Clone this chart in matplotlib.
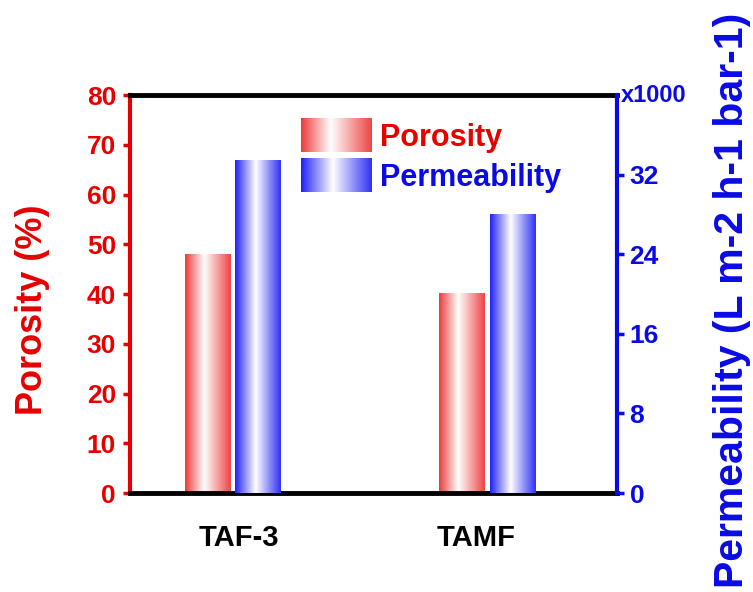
import numpy as np
import matplotlib
matplotlib.use("Agg")
import matplotlib.pyplot as plt
from matplotlib.colors import LinearSegmentedColormap
from matplotlib.legend_handler import HandlerBase
from matplotlib.image import BboxImage
from matplotlib.transforms import Bbox, TransformedBbox
from matplotlib.patches import Rectangle

plt.rcParams['font.family'] = ['Liberation Sans', 'DejaVu Sans']
plt.rcParams['font.weight'] = 'bold'

# data
categories = ['TAF-3', 'TAMF']
porosity = [48.0, 40.0]              # %
permeability = [33400, 28000]        # L m-2 h-1 bar-1
perm_ticks = [0, 8000, 16000, 24000, 32000]

RED = '#e60000'
BLUE = '#0a0ae6'
red_cmap = LinearSegmentedColormap.from_list('rg', [(0, '#ec3a3a'), (0.42, 'white'), (1, '#ee4444')])
blue_cmap = LinearSegmentedColormap.from_list('bg', [(0, '#2020f5'), (0.45, 'white'), (1, '#3030f5')])
grad = np.linspace(0, 1, 256).reshape(1, -1)

fig = plt.figure(figsize=(7.53, 5.92), dpi=100)
ax = fig.add_axes([0.1726, 0.1672, 0.6468, 0.6723])
ax2 = ax.twinx()

x = np.arange(len(categories))
w = 0.179
off = 0.099


def gradient_bars(axis, xs, heights, cmap):
    bars = axis.bar(xs, heights, w, color='none', edgecolor='none')
    for b in bars:
        x0, y0 = b.get_x(), b.get_y()
        axis.imshow(grad, cmap=cmap, aspect='auto', interpolation='bicubic',
                    extent=[x0, x0 + b.get_width(), y0, y0 + b.get_height()], zorder=2)
    return bars


gradient_bars(ax, x - off, porosity, red_cmap)
gradient_bars(ax2, x + off, permeability, blue_cmap)

ax.set_xlim(-0.403, 1.508)
ax.set_ylim(0, 80)
ax2.set_ylim(0, 40000)

# left axis
ax.set_yticks(np.arange(0, 81, 10))
ax.tick_params(axis='y', colors=RED, labelsize=19, width=2.5, length=5, pad=5)
ax.set_xticks(x + np.array([0.025, -0.045]))
ax.set_xticklabels(categories, fontsize=21, fontweight='bold')
ax.tick_params(axis='x', length=0, pad=22)
ax.set_ylabel('Porosity (%)', color=RED, fontsize=26, fontweight='bold')
ax.yaxis.label.set_va('center')
ax.yaxis.set_label_coords(-0.201, 0.46)

# right axis
ax2.set_yticks(perm_ticks)
ax2.set_yticklabels([str(t // 1000) for t in perm_ticks])
ax2.tick_params(axis='y', colors=BLUE, labelsize=19, width=2.5, length=5, pad=4)
ax2.set_ylabel('Permeability (L m-2 h-1 bar-1)', color=BLUE, fontsize=29.5, fontweight='bold')
ax2.yaxis.label.set_va('center')
ax2.yaxis.set_label_coords(1.236, 0.485)
ax2.text(1.008, 40000, 'x1000', transform=ax2.get_yaxis_transform(), color=BLUE,
         fontsize=17, fontweight='bold', ha='left', va='center')

for s in ['top', 'bottom']:
    ax.spines[s].set_color('black')
    ax.spines[s].set_linewidth(3.5)
ax.spines['left'].set_color(RED)
ax.spines['left'].set_linewidth(3)
ax.spines['right'].set_visible(False)
for s in ['top', 'bottom', 'left']:
    ax2.spines[s].set_visible(False)
ax2.spines['right'].set_color(BLUE)
ax2.spines['right'].set_linewidth(3)


class GradientHandler(HandlerBase):
    def __init__(self, cmap):
        super().__init__()
        self.cmap = cmap

    def create_artists(self, legend, orig_handle, xdescent, ydescent, width, height, fontsize, trans):
        bb = TransformedBbox(Bbox.from_bounds(-xdescent, -ydescent, width, height), trans)
        img = BboxImage(bb, cmap=self.cmap, interpolation='bicubic')
        img.set_data(grad)
        return [img]


h1 = Rectangle((0, 0), 1, 1)
h2 = Rectangle((0, 0), 1, 1)
ax2.legend([h1, h2], ['Porosity', 'Permeability'],
           handler_map={h1: GradientHandler(red_cmap), h2: GradientHandler(blue_cmap)},
           loc='upper left', bbox_to_anchor=(0.352, 0.94), frameon=False,
           borderpad=0, borderaxespad=0, handlelength=2.3, handleheight=1.3,
           handletextpad=0.28, labelspacing=0.2, labelcolor=[RED, BLUE],
           prop={'size': 22, 'weight': 'bold'})

fig.savefig('out.png', dpi=100)
